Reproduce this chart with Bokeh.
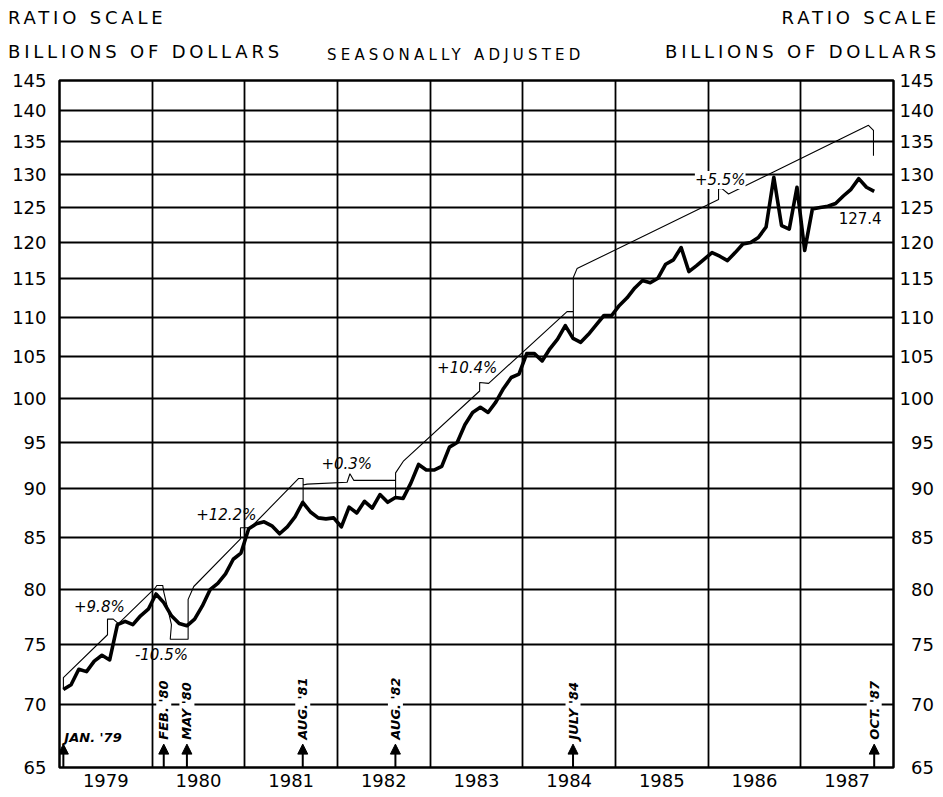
import numpy as np
from bokeh.plotting import figure
from bokeh.layouts import column
from bokeh.models import (FixedTicker, LogAxis, Range1d, Label, Arrow, NormalHead,
                          ColumnDataSource, Div)
from bokeh.embed import file_html
from bokeh.resources import INLINE

# ---------------- data ----------------
start_year = 1979
# monthly values, Jan 1979 .. Oct 1987 (billions of dollars, seasonally adjusted)
vals_1979 = [71.2, 71.6, 72.9, 72.7, 73.6, 74.1, 73.7, 76.8, 77.1, 76.8, 77.6, 78.2]
vals_1980 = [79.6, 78.8, 77.6, 76.9, 76.7, 77.3, 78.5, 80.0, 80.6, 81.5, 82.9, 83.5]
vals_1981 = [85.9, 86.4, 86.6, 86.2, 85.4, 86.1, 87.1, 88.6, 87.6, 87.0, 86.9, 87.0]
vals_1982 = [86.1, 88.1, 87.5, 88.7, 88.0, 89.4, 88.6, 89.1, 89.0, 90.6, 92.6, 92.0]
vals_1983 = [92.0, 92.4, 94.5, 95.0, 97.0, 98.4, 99.0, 98.4, 99.6, 101.2, 102.5, 102.9]
vals_1984 = [105.4, 105.4, 104.5, 106.0, 107.2, 108.9, 107.3, 106.8, 107.8, 109.0, 110.2, 110.2]
vals_1985 = [111.5, 112.5, 113.8, 114.8, 114.5, 115.1, 117.0, 117.6, 119.3, 116.0, 116.8, 117.7]
vals_1986 = [118.6, 118.1, 117.5, 118.6, 119.8, 120.0, 120.7, 122.2, 129.5, 122.4, 121.9, 128.0]
vals_1987 = [118.9, 124.8, 125.0, 125.2, 125.6, 126.7, 127.7, 129.3, 128.0, 127.4]

# growth-path (thin line) vertices: date as fractional year, value
path_x = [1979.042, 1979.042, 1979.518, 1979.518, 1979.580, 1979.636, 1980.036, 1980.050,
          1980.114, 1980.125, 1980.208, 1980.195, 1980.388, 1980.388, 1980.449, 1980.953,
          1980.953, 1981.060, 1981.581, 1981.629, 1981.629, 1981.629, 1981.672, 1982.104,
          1982.134, 1982.175, 1982.603, 1982.627, 1982.627, 1982.627, 1982.714, 1983.534,
          1983.534, 1983.631, 1984.477, 1984.545, 1984.545, 1984.545, 1984.585, 1986.112,
          1986.112, 1986.149, 1986.220, 1987.730, 1987.784, 1987.784]
path_y = [71.2, 72.2, 75.9, 77.3, 77.3, 76.9, 80.2, 80.4,
          80.4, 79.8, 76.8, 75.5, 75.5, 79.1, 80.3, 84.9,
          86.0, 86.0, 91.1, 91.1, 88.6, 90.4, 90.5, 90.7,
          91.6, 90.9, 90.9, 90.9, 89.0, 91.7, 93.0, 100.9,
          101.9, 101.8, 110.7, 110.7, 107.2, 115.2, 116.4, 126.2,
          127.8, 127.8, 127.0, 137.6, 136.8, 132.8]

growth_labels = ["+9.8%", "-10.5%", "+12.2%", "+0.3%", "+10.4%", "+5.5%"]
growth_label_x = [1979.43, 1980.10, 1980.80, 1982.10, 1983.40, 1986.13]
growth_label_y = [78.4, 74.1, 87.3, 92.7, 103.6, 129.1]

last_value_text = "127.4"

event_labels = ["JAN. '79", "FEB. '80", "MAY '80", "AUG. '81", "AUG. '82", "JULY '84", "OCT. '87"]
event_month = [0, 13, 16, 31, 43, 66, 105]   # months after Jan 1979

year_labels = ["1979", "1980", "1981", "1982", "1983", "1984", "1985", "1986", "1987"]
y_ticks = [65, 70, 75, 80, 85, 90, 95, 100, 105, 110, 115, 120, 125, 130, 135, 140, 145]

header_scale = "RATIO SCALE"
header_units = "BILLIONS OF DOLLARS"
header_center = "SEASONALLY ADJUSTED"

# ---------------- build ----------------
values = vals_1979 + vals_1980 + vals_1981 + vals_1982 + vals_1983 + vals_1984 + vals_1985 + vals_1986 + vals_1987
months = np.arange(len(values))
xs = start_year + (months + 0.5) / 12.0

FONT = "DejaVu Sans"
W = 940
HEAD_H = 64

big = "position:absolute;font-size:18px;line-height:18px;letter-spacing:3.8px;white-space:nowrap;"
small = "position:absolute;font-size:15px;line-height:15px;letter-spacing:4.2px;white-space:nowrap;"
header_html = (
    f'<div style="position:relative;width:{W}px;height:{HEAD_H}px;font-family:\'{FONT}\';color:black;">'
    f'<span style="{big}left:8px;top:9px;">{header_scale}</span>'
    f'<span style="{big}left:8px;top:43px;">{header_units}</span>'
    f'<span style="{small}left:327px;top:48px;">{header_center}</span>'
    f'<span style="{big}right:0px;top:9px;">{header_scale}</span>'
    f'<span style="{big}right:0px;top:43px;">{header_units}</span>'
    '</div>'
)
header = Div(text=header_html, width=W, height=HEAD_H, margin=0)

p = figure(width=W, height=795 - HEAD_H, y_axis_type="log",
           x_range=Range1d(1979, 1988), y_range=Range1d(65, 145),
           output_backend="svg", toolbar_location=None,
           min_border_left=59, min_border_right=47, min_border_top=80 - HEAD_H,
           min_border_bottom=28)
p.background_fill_color = "white"
p.border_fill_color = "white"
p.outline_line_color = "black"
p.outline_line_width = 2.5

# axes
left_axis = p.yaxis[0]
left_axis.ticker = FixedTicker(ticks=y_ticks, minor_ticks=[])
left_axis.major_label_overrides = {t: str(t) for t in y_ticks}
right_axis = LogAxis(ticker=FixedTicker(ticks=y_ticks, minor_ticks=[]))
p.add_layout(right_axis, "right")
# right-hand labels are right-aligned in the original: pad two-digit labels with a figure space
right_axis.major_label_overrides = {t: (str(t) if t >= 100 else "\u2007" + str(t)) for t in y_ticks}
year_ticks = [int(y) + 0.5 for y in year_labels]
p.xaxis.ticker = FixedTicker(ticks=year_ticks, minor_ticks=[])
p.xaxis.major_label_overrides = {t: s for t, s in zip(year_ticks, year_labels)}

for ax in p.axis:
    ax.axis_line_color = None
    ax.major_tick_line_color = None
    ax.minor_tick_line_color = None
    ax.major_tick_out = 0
    ax.major_tick_in = 0
    ax.minor_tick_out = 0
    ax.major_label_text_font = FONT
    ax.major_label_text_font_size = "18px"
    ax.major_label_text_color = "black"
p.xaxis.major_label_standoff = 6
left_axis.major_label_standoff = 13
right_axis.major_label_standoff = 6

p.xgrid.ticker = FixedTicker(ticks=[int(y) for y in year_labels[1:]])
p.xgrid.grid_line_color = "black"
p.xgrid.grid_line_width = 1.8
p.ygrid.grid_line_color = "black"
p.ygrid.grid_line_width = 1.8
p.ygrid.minor_grid_line_color = None

# lines
p.line(path_x, path_y, line_color="black", line_width=1.1)
p.line(xs, values, line_color="black", line_width=3.6, line_join="round")

# event arrows
ex = [start_year + (m + 0.5) / 12.0 for m in event_month]
asrc = ColumnDataSource(dict(x0=ex, y0=[65.0] * len(ex), x1=ex, y1=[66.8] * len(ex)))
p.add_layout(Arrow(source=asrc, x_start="x0", y_start="y0", x_end="x1", y_end="y1",
                   line_width=2, line_color="black",
                   end=NormalHead(size=10, fill_color="black", line_color="black")))
for i, (lab, x) in enumerate(zip(event_labels, ex)):
    if i == 0:
        p.add_layout(Label(x=x, y=67.3, text=lab, text_font=FONT, text_font_size="13px",
                           text_font_style="bold italic", text_align="left", text_color="black",
                           text_baseline="middle", x_offset=1))
    else:
        p.add_layout(Label(x=x, y=67.15, text=lab, text_font=FONT, text_font_size="13px",
                           text_font_style="bold italic", text_align="left", text_color="black",
                           text_baseline="middle", angle=90, angle_units="deg",
                           background_fill_color="white"))

for lab, x, y in zip(growth_labels, growth_label_x, growth_label_y):
    p.add_layout(Label(x=x, y=y, text=lab, text_font=FONT, text_font_size="15px",
                       text_font_style="italic", text_align="center", text_baseline="middle",
                       text_color="black",
                       background_fill_color="white" if lab == "+5.5%" else None))
p.add_layout(Label(x=1987.64, y=123.5, text=last_value_text, text_font=FONT, text_color="black",
                   text_font_size="15px", text_align="center", text_baseline="middle"))

layout = column(header, p, spacing=0)
open("out.html", "w").write(file_html(layout, INLINE))
